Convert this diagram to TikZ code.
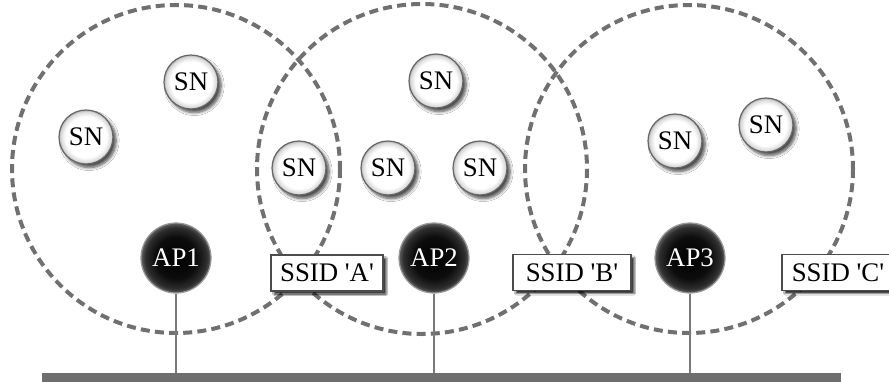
\documentclass[tikz,border=0pt]{standalone}
\usepackage{fontspec}
\setmainfont{Liberation Serif}[Ligatures=TeXOff]
\usetikzlibrary{shadows.blur}
% white ball with a grey rim for the stations
\pgfdeclareradialshading{snball}{\pgfpoint{0bp}{0bp}}{color(0bp)=(white); color(19bp)=(white); color(23.5bp)=(black!15); color(25bp)=(black!30); color(50bp)=(black!30)}
% dark ball for the access points
\pgfdeclareradialshading{apball}{\pgfpoint{0bp}{0bp}}{color(0bp)=(black); color(15bp)=(black!95); color(22bp)=(black!82); color(25bp)=(black!62); color(50bp)=(black!62)}
\definecolor{cellgray}{HTML}{707070}
\definecolor{wiregray}{HTML}{7A7A7A}
\definecolor{busgray}{HTML}{6E6E6E}

\begin{document}
\begin{tikzpicture}[x=0.5pt,y=-0.5pt,
  lbl/.style={font=\fontsize{13.4pt}{16pt}\selectfont, inner sep=0pt},
  cell/.style={draw=cellgray, line width=2pt, dash pattern=on 4.5pt off 2.6pt},
  sn/.style={lbl, circle, minimum size=27pt, shading=snball, draw=black!60, line width=0.6pt,
    blur shadow={shadow xshift=1.6pt, shadow yshift=-1.8pt, shadow blur steps=6, shadow opacity=70, shadow blur radius=1.5pt}},
  ap/.style={lbl, circle, minimum size=35pt, shading=apball, draw=black!40, line width=0.6pt, text=white},
  ssid/.style={lbl, rectangle, fill=white, draw=black!70, line width=0.8pt, minimum height=18pt,
    blur shadow={shadow xshift=1.5pt, shadow yshift=-1.5pt, shadow opacity=80, shadow blur steps=3, shadow blur radius=0.8pt}},
  wire/.style={draw=wiregray, line width=1pt},
  bus/.style={fill=busgray, inner sep=0pt, minimum width=399.5pt, minimum height=5pt},
]
\clip (0,0) rectangle (889,381);
\fill[white] (0,0) rectangle (889,381);

% coverage areas of the three access points
\draw[cell] (176,169) circle[radius=164];
\draw[cell] (422,169) circle[radius=165];
\draw[cell] (689,169) circle[radius=164];

% stations
\node[sn] (sn1) at (191,82)  {SN};
\node[sn] (sn2) at (86,137)  {SN};
\node[sn] (sn3) at (299,168) {SN};
\node[sn] (sn4) at (388,168) {SN};
\node[sn] (sn5) at (480,168) {SN};
\node[sn] (sn6) at (436,81)  {SN};
\node[sn] (sn7) at (675,141) {SN};
\node[sn] (sn8) at (766,125) {SN};

% access points
\node[ap] (ap1) at (176,258) {AP1};
\node[ap] (ap2) at (434,258) {AP2};
\node[ap] (ap3) at (690,258) {AP3};

% network names
\node[ssid, minimum width=56pt] (ssidA) at (327,273)   {SSID 'A'};
\node[ssid, minimum width=59pt] (ssidB) at (572,272.5) {SSID 'B'};
\node[ssid, minimum width=56pt] (ssidC) at (838,272.5) {SSID 'C'};

% wired backbone
\node[bus] (bus) at (441.5,378) {};
\draw[wire] (ap1.south) -- (ap1.south |- bus.north);
\draw[wire] (ap2.south) -- (ap2.south |- bus.north);
\draw[wire] (ap3.south) -- (ap3.south |- bus.north);
\end{tikzpicture}
\end{document}
